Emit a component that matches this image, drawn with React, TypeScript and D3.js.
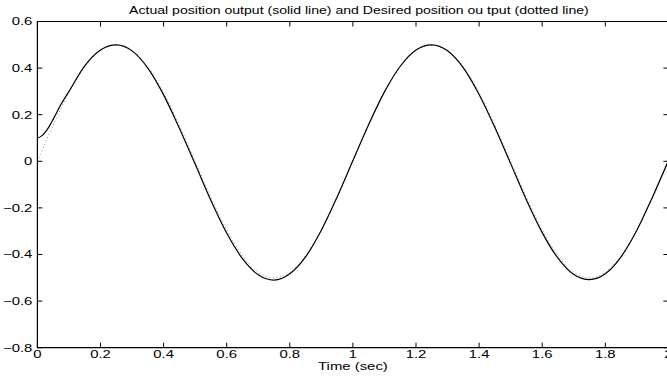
import React from "react";
import * as d3 from "d3";

const timeDesired = [0, 0.05, 0.1, 0.15, 0.2, 0.25, 0.3, 0.35, 0.4, 0.45, 0.5, 0.55, 0.6, 0.65, 0.7, 0.75, 0.8, 0.85, 0.9, 0.95, 1.0, 1.05, 1.1, 1.15, 1.2, 1.25, 1.3, 1.35, 1.4, 1.45, 1.5, 1.55, 1.6, 1.65, 1.7, 1.75, 1.8, 1.85, 1.9, 1.95, 2.0];
const desiredPos = [0, 0.155, 0.294, 0.405, 0.476, 0.5, 0.476, 0.405, 0.294, 0.155, 0, -0.155, -0.294, -0.405, -0.476, -0.5, -0.476, -0.405, -0.294, -0.155, 0, 0.155, 0.294, 0.405, 0.476, 0.5, 0.476, 0.405, 0.294, 0.155, 0, -0.155, -0.294, -0.405, -0.476, -0.5, -0.476, -0.405, -0.294, -0.155, 0];

const timeActual = [0, 0.0125, 0.025, 0.0375, 0.05, 0.075, 0.1, 0.15, 0.2, 0.25, 0.3, 0.35, 0.4, 0.45, 0.5, 0.55, 0.6, 0.65, 0.7, 0.75, 0.8, 0.85, 0.9, 0.95, 1.0, 1.05, 1.1, 1.15, 1.2, 1.25, 1.3, 1.35, 1.4, 1.45, 1.5, 1.55, 1.6, 1.65, 1.7, 1.75, 1.8, 1.85, 1.9, 1.95, 2.0];
const actualPos = [0.1, 0.108, 0.125, 0.15, 0.18, 0.245, 0.3, 0.41, 0.478, 0.5, 0.474, 0.4, 0.285, 0.142, -0.012, -0.168, -0.308, -0.418, -0.487, -0.51, -0.483, -0.41, -0.296, -0.153, 0.003, 0.158, 0.298, 0.408, 0.478, 0.5, 0.474, 0.401, 0.287, 0.145, -0.01, -0.166, -0.306, -0.416, -0.486, -0.508, -0.483, -0.41, -0.296, -0.152, 0.003];

const xTicks = [0, 0.2, 0.4, 0.6, 0.8, 1, 1.2, 1.4, 1.6, 1.8, 2];
const yTicks = [-0.8, -0.6, -0.4, -0.2, 0, 0.2, 0.4, 0.6];

const titleText = "Actual position output (solid line) and Desired position ou tput (dotted line)";
const xLabel = "Time (sec)";

const W = 667;
const H = 376;
const left = 37.4;
const right = 668.4;
const top = 21.5;
const bottom = 347.7;

function fmt(v: number): string {
  if (Math.abs(v) < 1e-9) return "0";
  const s = String(Math.round(v * 10) / 10);
  return s.replace("-", "\u2212");
}

export default function App() {
  const x = d3.scaleLinear().domain([0, 2]).range([left, right]);
  const y = d3.scaleLinear().domain([-0.8, 0.6]).range([bottom, top]);
  const line = d3
    .line<[number, number]>()
    .x((d) => x(d[0]))
    .y((d) => y(d[1]))
    .curve(d3.curveMonotoneX);
  const desiredPath = line(timeDesired.map((t, i) => [t, desiredPos[i]]) as [number, number][]) || "";
  const actualPath = line(timeActual.map((t, i) => [t, actualPos[i]]) as [number, number][]) || "";
  const font = "'Liberation Sans', Arial, Helvetica, sans-serif";
  const tl = 5;
  const fs = 10.5;
  const sxTick = 1.42;
  const sxTitle = 1.34;
  return (
    <svg width={W} height={H} style={{ position: "absolute", left: 0, top: 0, background: "#fff" }}>
      <rect x={0} y={0} width={W} height={H} fill="#fff" />
      <defs>
        <clipPath id="plotclip">
          <rect x={left} y={top} width={right - left} height={bottom - top} />
        </clipPath>
      </defs>
      <g clipPath="url(#plotclip)">
        <path d={desiredPath} fill="none" stroke="#8a8a8a" strokeWidth={1} strokeDasharray="1 2.6" />
        <path d={actualPath} fill="none" stroke="#000" strokeWidth={1.2} />
      </g>
      <line x1={left} x2={right} y1={top} y2={top} stroke="#000" strokeWidth={1.2} />
      <line x1={left} x2={right} y1={bottom} y2={bottom} stroke="#000" strokeWidth={1.2} />
      <line x1={left} x2={left} y1={top} y2={bottom} stroke="#000" strokeWidth={1.2} />
      <line x1={right} x2={right} y1={top} y2={bottom} stroke="#000" strokeWidth={1.2} />
      {xTicks.map((t) => (
        <g key={"x" + t}>
          <line x1={x(t)} x2={x(t)} y1={bottom} y2={bottom - tl} stroke="#000" strokeWidth={1} />
          <line x1={x(t)} x2={x(t)} y1={top} y2={top + tl} stroke="#000" strokeWidth={1} />
          <text
            transform={`translate(${x(t)},${bottom + 10.5}) scale(${sxTick},1)`}
            textAnchor="middle"
            fontFamily={font}
            fontSize={fs}
            fill="#000"
          >
            {fmt(t)}
          </text>
        </g>
      ))}
      {yTicks.map((v) => (
        <g key={"y" + v}>
          <line x1={left} x2={left + tl} y1={y(v)} y2={y(v)} stroke="#000" strokeWidth={1} />
          <line x1={right} x2={right - tl} y1={y(v)} y2={y(v)} stroke="#000" strokeWidth={1} />
          <text
            transform={`translate(${left - 5},${y(v) + 3.8}) scale(${sxTick},1)`}
            textAnchor="end"
            fontFamily={font}
            fontSize={fs}
            fill="#000"
          >
            {fmt(v)}
          </text>
        </g>
      ))}
      <text
        transform={`translate(${(left + right) / 2},${370}) scale(${sxTick},1)`}
        textAnchor="middle"
        fontFamily={font}
        fontSize={fs}
        fill="#000"
      >
        {xLabel}
      </text>
      <text
        transform={`translate(${(left + right) / 2 + 6},${14}) scale(${sxTitle},1)`}
        textAnchor="middle"
        fontFamily={font}
        fontSize={fs}
        fill="#000"
      >
        {titleText}
      </text>
    </svg>
  );
}
